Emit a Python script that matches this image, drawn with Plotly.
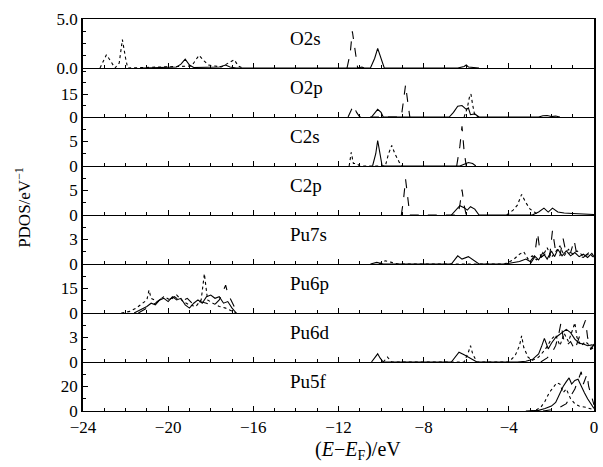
import plotly.graph_objects as go
from plotly.subplots import make_subplots

# panel names, top to bottom
orbitals = ["O2s", "O2p", "C2s", "C2p", "Pu7s", "Pu6p", "Pu6d", "Pu5f"]

# (energy eV, PDOS), per panel and line style
o2s_solid = [(-21.2, 0), (-20.5, 0.05), (-19.6, 0.1), (-19.4, 0.4), (-19.2, 0.9), (-19.0, 0.3), (-18.8, 0.05),
             (-17.6, 0.1), (-17.3, 0.3), (-17.1, 0.1), (-16.8, 0), (-10.5, 0), (-10.3, 1.0), (-10.16, 2.0),
             (-10.0, 1.0), (-9.85, 0), (-6.4, 0), (-6.1, 0.15), (-6.0, 0.3), (-5.9, 0.1), (-5.4, 0)]
o2s_dash = [(-11.6, 0), (-11.45, 1.5), (-11.35, 3.75), (-11.25, 2.0), (-11.1, 0), (-10.9, 0.1), (-10.8, 0)]
o2s_dot = [(-23.2, 0), (-23.0, 0.9), (-22.9, 1.35), (-22.7, 0.7), (-22.5, 0), (-22.3, 0.5), (-22.15, 2.9),
           (-22.0, 1.0), (-21.9, 0), (-18.9, 0.2), (-18.7, 0.9), (-18.55, 1.3), (-18.3, 0.7), (-18.1, 0.3),
           (-17.8, 0.2), (-17.5, 0.1), (-17.1, 0.6), (-16.9, 0.85), (-16.7, 0.2), (-16.5, 0)]

o2p_solid = [(-10.45, 0), (-10.25, 3), (-10.16, 5), (-10.0, 3), (-9.9, 0), (-6.8, 0), (-6.6, 3), (-6.4, 7),
             (-6.2, 7.5), (-6.0, 5), (-5.9, 6), (-5.8, 1.5), (-5.6, 2), (-5.4, 0), (-2.6, 0), (-2.4, 0.8),
             (-2.2, 1), (-2.0, 0.3), (-1.8, 0.6), (-1.6, 0)]
o2p_dash = [(-11.55, 0), (-11.4, 5), (-11.3, 7.5), (-11.15, 3), (-11.0, 0), (-9.05, 0), (-8.95, 10),
            (-8.85, 21), (-8.75, 10), (-8.65, 0)]
o2p_dot = [(-6.1, 0), (-5.95, 6), (-5.85, 13), (-5.78, 15), (-5.7, 8), (-5.6, 1), (-5.4, 0)]

c2s_solid = [(-10.4, 0), (-10.25, 2.5), (-10.16, 5.2), (-10.05, 2.5), (-9.95, 0), (-6.3, 0), (-6.1, 0.4),
             (-5.9, 0.7), (-5.7, 0.5), (-5.55, 0)]
c2s_dash = [(-6.45, 0), (-6.3, 4), (-6.2, 8.1), (-6.1, 3), (-6.0, 0)]
c2s_dot = [(-11.5, 0), (-11.4, 2.8), (-11.3, 0.5), (-11.15, 0.5), (-11.0, 0), (-9.8, 0), (-9.65, 2.5),
           (-9.5, 4.2), (-9.35, 2.5), (-9.15, 0.8), (-9.0, 0)]

c2p_solid = [(-6.7, 0), (-6.5, 1), (-6.3, 1.9), (-6.1, 1.5), (-5.95, 1.0), (-5.8, 1.7), (-5.6, 1.2), (-5.4, 0),
             (-2.9, 0), (-2.6, 0.6), (-2.35, 1.4), (-2.15, 0.6), (-1.95, 1.4), (-1.7, 0.6), (-1.4, 0.4),
             (-1.0, 0.3), (-0.6, 0.2), (0, 0.1)]
c2p_dash = [(-9.05, 0), (-8.95, 3), (-8.85, 7.3), (-8.75, 3), (-8.65, 0), (-6.4, 0), (-6.3, 2), (-6.2, 5.2),
            (-6.1, 2), (-6.0, 0)]
c2p_dot = [(-4.1, 0), (-3.8, 1), (-3.6, 2), (-3.4, 4.2), (-3.2, 2.5), (-3.0, 1.2), (-2.8, 0.6), (-2.6, 0)]

pu7s_solid = [(-10.5, 0), (-10.2, 0.2), (-9.9, 0), (-6.7, 0), (-6.4, 1.0), (-6.2, 0.6), (-5.9, 0.9),
              (-5.6, 0.3), (-5.4, 0), (-4.2, 0), (-3.8, 0.2), (-3.5, 0.3), (-3.2, 0.6), (-3.0, 0.3),
              (-2.8, 1.0), (-2.6, 0.5), (-2.4, 1.4), (-2.2, 0.6), (-2.0, 1.6), (-1.85, 0.9), (-1.7, 1.8),
              (-1.5, 1.0), (-1.3, 1.6), (-1.1, 1.0), (-0.9, 1.4), (-0.7, 0.9), (-0.5, 1.2), (-0.3, 0.8),
              (-0.1, 1.3), (0, 0.9)]
pu7s_dash = [(-3.0, 0), (-2.8, 0.8), (-2.65, 3.8), (-2.5, 0.8), (-2.3, 1.2), (-2.1, 0.5), (-1.95, 4.1),
             (-1.8, 1.5), (-1.6, 1.0), (-1.45, 3.1), (-1.3, 1.2), (-1.1, 1.4), (-0.93, 2.9), (-0.8, 1.0),
             (-0.5, 0.8), (-0.2, 1.5), (0, 1.0)]
pu7s_dot = [(-10.1, 0), (-9.8, 0.4), (-9.5, 0.2), (-9.2, 0), (-4.2, 0), (-3.8, 0.5), (-3.5, 1.2), (-3.3, 1.5),
            (-3.1, 0.6), (-2.9, 1.0), (-2.7, 0.5), (-2.4, 1.0), (-2.2, 2.0), (-2.0, 0.8), (-1.8, 1.5),
            (-1.6, 2.2), (-1.4, 1.0), (-1.2, 1.8), (-1.0, 1.2), (-0.8, 1.6), (-0.5, 1.0), (-0.2, 1.2), (0, 0.8)]

pu6p_solid = [(-21.6, 0), (-21.3, 2), (-21.0, 4), (-20.8, 6), (-20.6, 5), (-20.4, 8), (-20.2, 9), (-20.0, 7),
              (-19.8, 10), (-19.6, 8), (-19.4, 9), (-19.2, 5), (-19.0, 3), (-18.8, 6), (-18.6, 8), (-18.4, 6),
              (-18.2, 10), (-18.0, 11), (-17.8, 9), (-17.6, 10), (-17.4, 6), (-17.2, 7), (-17.0, 3), (-16.8, 0)]
pu6p_dash = [(-21.4, 0), (-21.0, 3), (-20.6, 6), (-20.3, 9), (-20.0, 8), (-19.7, 10), (-19.4, 7), (-19.1, 9),
             (-18.8, 5), (-18.5, 7), (-18.2, 6), (-17.9, 4), (-17.6, 8), (-17.4, 14), (-17.3, 17), (-17.2, 12),
             (-17.0, 7), (-16.9, 4), (-16.7, 0)]
pu6p_dot = [(-22.2, 0), (-21.8, 1), (-21.5, 3), (-21.2, 6), (-21.0, 8), (-20.9, 14), (-20.8, 9), (-20.5, 7),
            (-20.2, 10), (-19.9, 8), (-19.6, 11), (-19.3, 7), (-19.0, 5), (-18.7, 4), (-18.45, 8), (-18.3, 24),
            (-18.15, 8), (-17.9, 6), (-17.6, 4), (-17.3, 3), (-17.0, 1), (-16.8, 0)]

pu6d_solid = [(-10.45, 0), (-10.25, 0.6), (-10.16, 1.0), (-10.05, 0.5), (-9.9, 0), (-6.7, 0), (-6.5, 0.6),
              (-6.34, 1.2), (-6.1, 0.9), (-5.9, 0.6), (-5.7, 0.3), (-5.5, 0), (-3.6, 0), (-3.2, 0.1),
              (-2.9, 0.3), (-2.6, 1.0), (-2.45, 2.0), (-2.33, 2.9), (-2.15, 1.6), (-2.0, 2.3), (-1.8, 3.0),
              (-1.6, 3.4), (-1.4, 3.8), (-1.3, 4.0), (-1.1, 3.6), (-0.9, 2.8), (-0.7, 2.3), (-0.5, 2.2),
              (-0.3, 2.0), (-0.1, 2.1), (0, 2.0)]
pu6d_dash = [(-2.5, 0), (-2.2, 0.5), (-2.0, 1.0), (-1.8, 2.0), (-1.65, 3.5), (-1.55, 4.8), (-1.45, 3.0),
             (-1.3, 2.0), (-1.1, 2.5), (-0.9, 1.5), (-0.7, 3.0), (-0.55, 4.0), (-0.4, 5.1), (-0.3, 3.0),
             (-0.15, 1.5), (0, 2.2)]
pu6d_dot = [(-9.9, 0), (-9.7, 0.6), (-9.5, 0), (-6.1, 0), (-5.9, 1.2), (-5.8, 2.0), (-5.7, 1.0), (-5.5, 0),
            (-4.0, 0), (-3.7, 0.8), (-3.5, 2.0), (-3.4, 3.2), (-3.3, 1.8), (-3.1, 0.6), (-2.9, 0.2), (-2.6, 0.6),
            (-2.3, 1.5), (-2.0, 2.8), (-1.8, 3.3), (-1.6, 2.0), (-1.4, 3.5), (-1.2, 2.5), (-1.0, 4.0),
            (-0.9, 4.8), (-0.8, 3.0), (-0.6, 2.0), (-0.4, 2.5), (-0.2, 2.0), (0, 1.5)]

pu5f_solid = [(-3.2, 0), (-2.6, 0.5), (-2.3, 2), (-2.0, 4), (-1.8, 7), (-1.6, 15), (-1.45, 20), (-1.3, 24),
              (-1.17, 27), (-1.05, 22), (-0.9, 25), (-0.75, 26), (-0.6, 20), (-0.45, 15), (-0.3, 10),
              (-0.15, 6), (0, 2)]
pu5f_dash = [(-2.4, 0), (-2.0, 1), (-1.6, 3), (-1.3, 6), (-1.1, 12), (-0.9, 18), (-0.75, 25), (-0.6, 32),
             (-0.5, 22), (-0.4, 28), (-0.33, 30), (-0.25, 20), (-0.1, 10), (0, 5)]
pu5f_dot = [(-3.0, 0), (-2.7, 1), (-2.5, 3), (-2.3, 8), (-2.1, 15), (-1.9, 20), (-1.75, 23), (-1.6, 22),
            (-1.45, 15), (-1.3, 18), (-1.1, 10), (-0.9, 6), (-0.7, 4), (-0.4, 3), (-0.2, 2), (0, 1)]

# y ranges and labelled ticks per panel
y_tops = [5.0, 32, 10, 10, 6, 30, 6, 40]
y_ticks = [[0, 5], [0, 15], [0, 5], [0, 5], [0, 3], [0, 15], [0, 3], [0, 20]]
y_ticktext = [["0.0", "5.0"], ["0", "15"], ["0", "5"], ["0", "5"], ["0", "3"], ["0", "15"], ["0", "3"], ["0", "20"]]
y_minor = [[1.25, 2.5, 3.75], [7.5, 22.5, 30], [2.5, 7.5], [2.5, 7.5], [1.5, 4.5], [7.5, 22.5], [1.5, 4.5], [10, 30]]

panels = [
    (o2s_solid, o2s_dash, o2s_dot),
    (o2p_solid, o2p_dash, o2p_dot),
    (c2s_solid, c2s_dash, c2s_dot),
    (c2p_solid, c2p_dash, c2p_dot),
    (pu7s_solid, pu7s_dash, pu7s_dot),
    (pu6p_solid, pu6p_dash, pu6p_dot),
    (pu6d_solid, pu6d_dash, pu6d_dot),
    (pu5f_solid, pu5f_dash, pu5f_dot),
]

FONT = "Liberation Serif"

fig = make_subplots(rows=8, cols=1, shared_xaxes=True, vertical_spacing=0)

for i, series in enumerate(panels):
    row = i + 1
    for pts, dash in zip(series, ["solid", "dash", "dot"]):
        fig.add_trace(go.Scatter(x=[p[0] for p in pts], y=[p[1] for p in pts], mode="lines",
                                 line=dict(color="black", width=1.1, dash=dash), showlegend=False),
                      row=row, col=1)
    fig.update_yaxes(range=[0, y_tops[i]], tickvals=y_ticks[i], ticktext=y_ticktext[i],
                     ticks="inside", ticklen=5, tickcolor="black",
                     minor=dict(tickvals=y_minor[i], ticks="inside", ticklen=3, tickcolor="black"),
                     showline=True, linecolor="black", linewidth=1.5, mirror=True,
                     showgrid=False, zeroline=False, row=row, col=1)
    # only the top panel mirrors its x line, so each divider is drawn once
    fig.update_xaxes(range=[-24, 0], dtick=4, tick0=0, ticks="inside", ticklen=5, tickcolor="black",
                     minor=dict(dtick=1, ticks="inside", ticklen=3, tickcolor="black"),
                     showline=True, linecolor="black", linewidth=1.3, mirror=(row == 1),
                     showgrid=False, zeroline=False, row=row, col=1)
    yref = "y domain" if row == 1 else "y%d domain" % row
    xref = "x domain" if row == 1 else "x%d domain" % row
    fig.add_annotation(text=orbitals[i], x=0.402, y=0.6, xref=xref, yref=yref,
                       xanchor="left", yanchor="middle", showarrow=False,
                       font=dict(family=FONT, size=19, color="black"))

fig.update_xaxes(showticklabels=True, row=8, col=1)

fig.add_annotation(text="PDOS/eV<sup>−1</sup>", x=-0.118, y=0.52, xref="paper", yref="paper",
                   xanchor="center", yanchor="middle",
                   textangle=-90, showarrow=False, font=dict(family=FONT, size=17, color="black"))
fig.add_annotation(text="(<i>E</i>−<i>E</i><sub>F</sub>)/eV", x=0.538, y=-0.1, xref="paper", yref="paper",
                   xanchor="center", yanchor="middle",
                   showarrow=False, font=dict(family=FONT, size=20, color="black"))

fig.update_layout(width=603, height=467, margin=dict(l=83, r=5, t=19, b=56),
                  plot_bgcolor="white", paper_bgcolor="white",
                  font=dict(family=FONT, size=17, color="black"))

# drop the page's default body margin so the figure sits at the window's corner
fig.write_html("out.html", config={"displayModeBar": False},
               post_script="document.body.style.margin='0';")
